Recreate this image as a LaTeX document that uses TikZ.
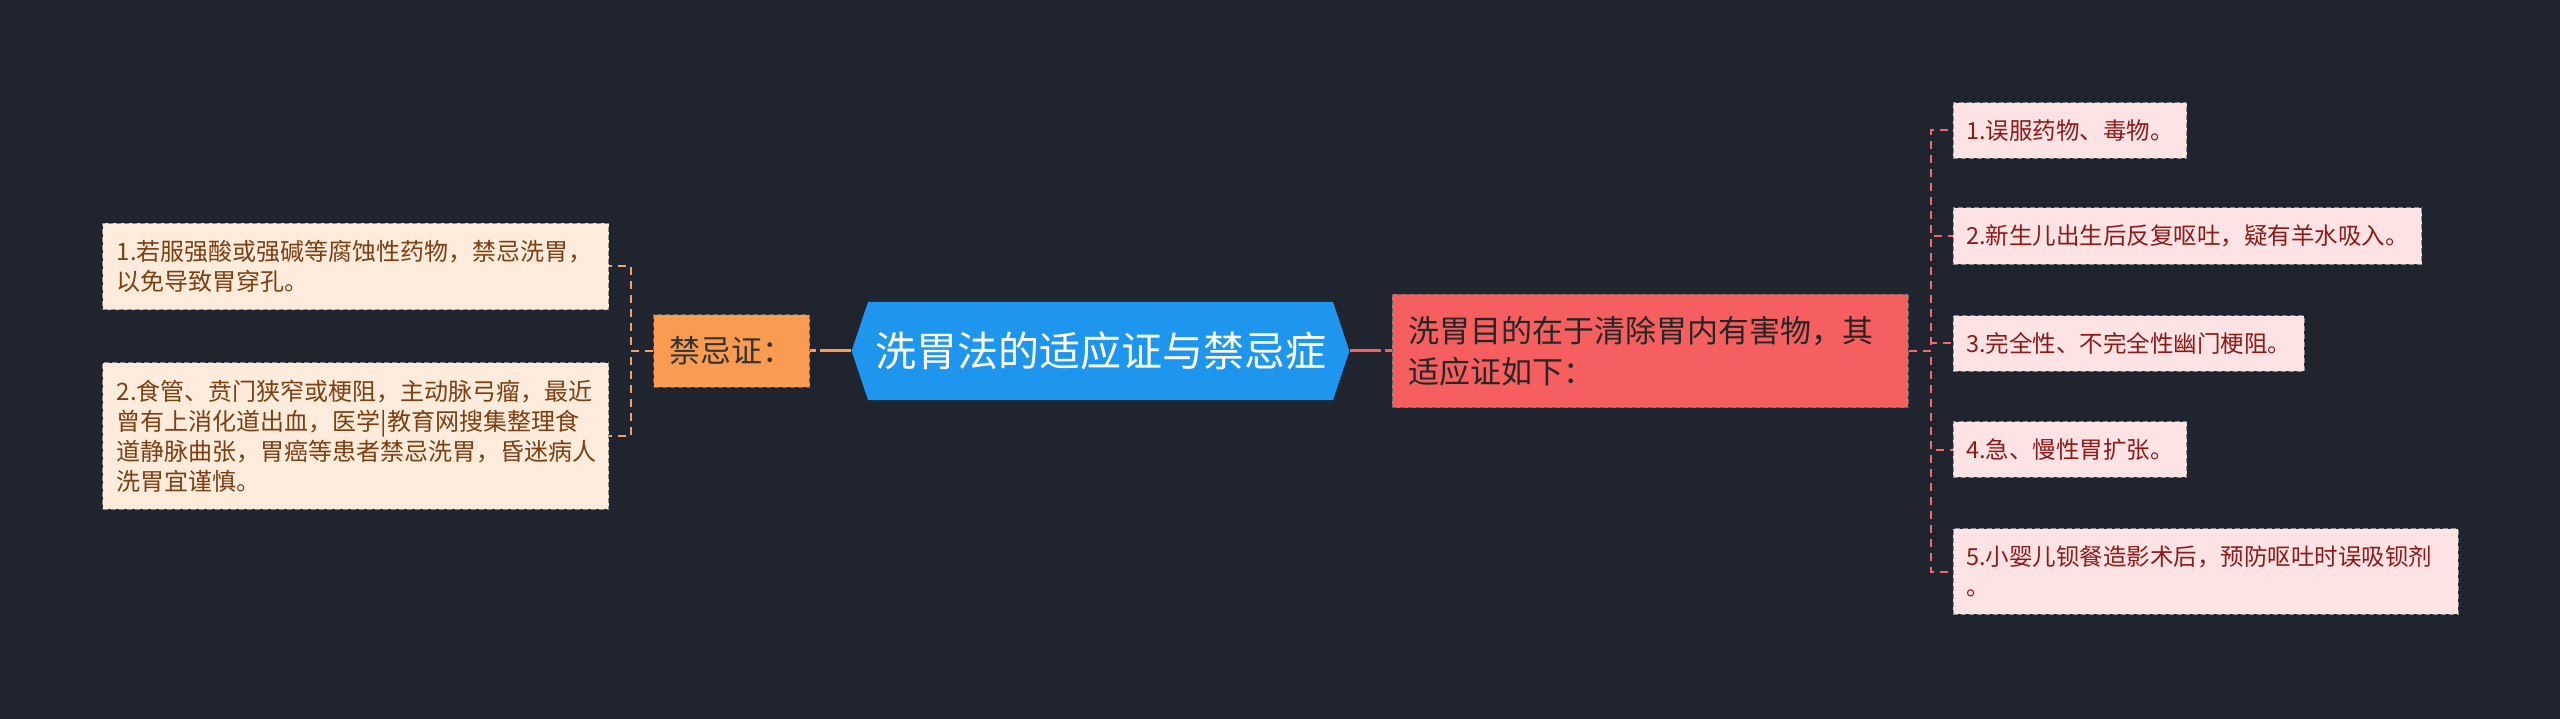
\documentclass[tikz,border=0pt]{standalone}
\usepackage{fontspec}
\newfontfamily\cjk{Noto Sans CJK SC}
\usetikzlibrary{positioning,shapes.symbols}

\definecolor{bgdark}{HTML}{20242F}
\definecolor{rootblue}{HTML}{1E96EE}
\definecolor{contrafill}{HTML}{F99B50}
\definecolor{indicfill}{HTML}{F65F5F}
\definecolor{contraleaf}{HTML}{FDEBDC}
\definecolor{indicleaf}{HTML}{FDE3E3}
\definecolor{contratext}{HTML}{7B3F12}
\definecolor{indictext}{HTML}{8B1A1A}
\definecolor{contraline}{HTML}{F0A060}
\definecolor{indicline}{HTML}{F06A6A}

\tikzset{
  topic/.style={signal, signal to=west and east, signal pointer angle=143,
    fill=rootblue, text=white, minimum height=98pt, inner xsep=7pt,
    font=\cjk\fontsize{41}{49}\selectfont},
  branch/.style={draw=black!60, dash pattern=on 5pt off 3pt, line width=1pt,
    inner xsep=16pt, inner ysep=22pt, align=left,
    font=\cjk\fontsize{31}{41}\selectfont},
  leaf/.style={draw=black!45, dash pattern=on 5pt off 3pt, line width=1pt,
    inner xsep=14pt, inner ysep=17pt, align=left,
    font=\cjk\fontsize{24}{30}\selectfont},
  rightleaf/.style={leaf, fill=indicleaf, text=indictext, inner xsep=13pt,
    font=\cjk\fontsize{23.5}{30}\selectfont},
  mainlink/.style={line width=3pt, dash pattern=on 31pt off 4pt},
  leftlink/.style={draw=contraline, line width=2pt, dash pattern=on 8pt off 6pt},
  rightlink/.style={draw=indicline, line width=2pt, dash pattern=on 8pt off 6pt},
}

\begin{document}
\begin{tikzpicture}[x=1pt, y=1pt]
  \fill[bgdark] (0,0) rectangle (2560,-719);
  \useasboundingbox (0,0) rectangle (2560,-719);

  \node[topic] (root) at (1100.5,-351) {洗胃法的适应证与禁忌症};

  % contraindications
  \node[branch, fill=contrafill, text=black!80, left=41pt of root] (contra) {禁忌证：};
  \node[leaf, fill=contraleaf, text=contratext, text width=478pt,
        left=44pt of contra, yshift=84.5pt] (contra1)
        {1.若服强酸或强碱等腐蚀性药物，禁忌洗胃，\\以免导致胃穿孔。};
  \node[leaf, fill=contraleaf, text=contratext, text width=478pt,
        left=44pt of contra, yshift=-85pt] (contra2)
        {2.食管、贲门狭窄或梗阻，主动脉弓瘤，最近\\曾有上消化道出血，医学|教育网搜集整理食\\道静脉曲张，胃癌等患者禁忌洗胃，昏迷病人\\洗胃宜谨慎。};

  % indications
  \node[branch, fill=indicfill, text=black!85, text width=484pt,
        right=42pt of root] (indic)
        {洗胃目的在于清除胃内有害物，其\\适应证如下：};
  \node[rightleaf, right=44pt of indic, yshift=220.5pt] (indic1) {1.误服药物、毒物。};
  \node[rightleaf, right=44pt of indic, yshift=115pt] (indic2) {2.新生儿出生后反复呕吐，疑有羊水吸入。};
  \node[rightleaf, right=44pt of indic, yshift=7.5pt] (indic3) {3.完全性、不完全性幽门梗阻。};
  \node[rightleaf, right=44pt of indic, yshift=-98.5pt] (indic4) {4.急、慢性胃扩张。};
  \node[rightleaf, text width=479pt, right=44pt of indic, yshift=-220.5pt] (indic5)
        {5.小婴儿钡餐造影术后，预防呕吐时误吸钡剂\\。};

  \draw[mainlink, draw=contrafill] (root.west) -- (contra.east);
  \draw[mainlink, draw=indicfill] (root.east) -- (indic.west);

  \draw[leftlink] (contra.west) -- ++(-22pt,0) |- (contra1.east);
  \draw[leftlink] (contra.west) -- ++(-22pt,0) |- (contra2.east);
  \foreach \n in {1,...,5}
    \draw[rightlink] (indic.east) -- ++(22pt,0) |- (indic\n.west);
\end{tikzpicture}
\end{document}
